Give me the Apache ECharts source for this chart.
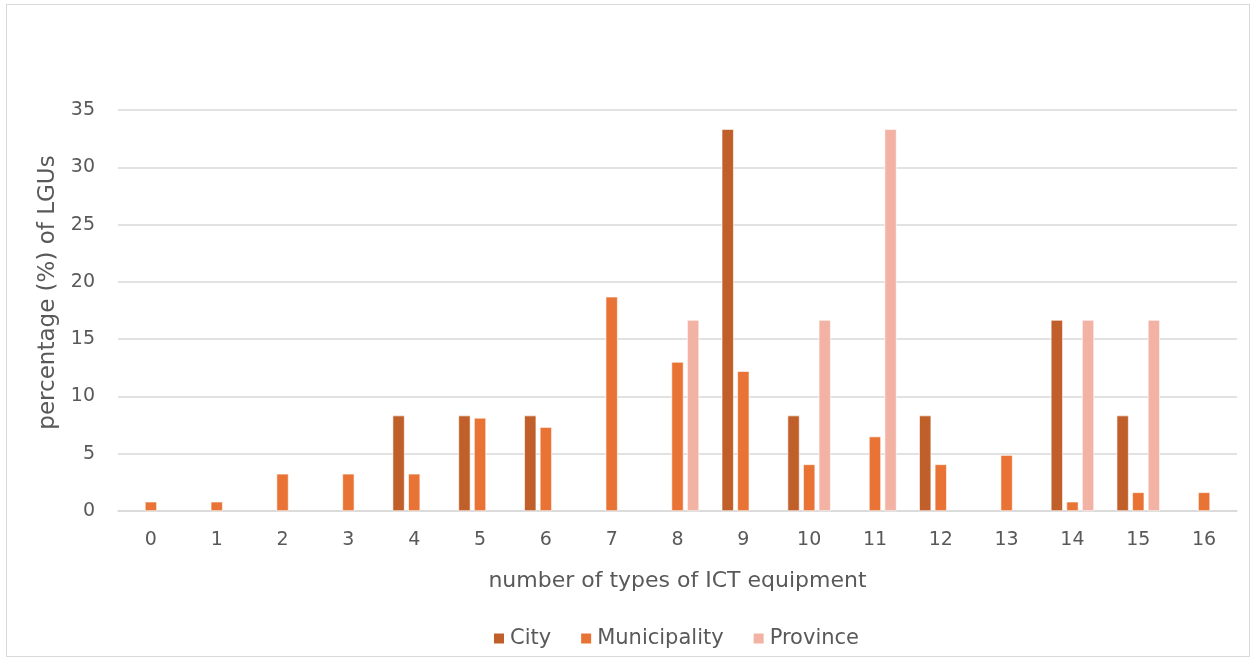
<!DOCTYPE html>
<html>
<head>
<meta charset="utf-8">
<script src="https://cdn.jsdelivr.net/npm/echarts@6/dist/echarts.min.js"></script>
<style>
  html, body { margin: 0; padding: 0; background: #fff; }
  #frame { position: absolute; left: 6px; top: 4px; width: 1242px; height: 651px; border: 1px solid #d9d9d9; }
  #chart { position: absolute; left: 0; top: 0; width: 1250px; height: 661px; }
</style>
</head>
<body>
<div id="frame"></div>
<div id="chart"></div>
<script>
// number of types of ICT equipment
var categories = ['0', '1', '2', '3', '4', '5', '6', '7', '8', '9', '10', '11', '12', '13', '14', '15', '16'];
// percentage of LGUs per group (0 = no bar)
var cityValues = [0, 0, 0, 0, 8.33, 8.33, 8.33, 0, 0, 33.33, 8.33, 0, 8.33, 0, 16.67, 8.33, 0];
var municipalityValues = [0.81, 0.81, 3.25, 3.25, 3.25, 8.13, 7.32, 18.7, 13.01, 12.2, 4.07, 6.5, 4.07, 4.88, 0.81, 1.63, 1.63];
var provinceValues = [0, 0, 0, 0, 0, 0, 0, 0, 16.67, 0, 16.67, 33.33, 0, 0, 16.67, 16.67, 0];

var FONT = 'DejaVu Sans';
var chart = echarts.init(document.getElementById('chart'));

function barSeries(name, data, color) {
  return {
    name: name,
    type: 'bar',
    // zero values are left out so no hairline bars show on the axis
    data: data.map(function (v) { return v === 0 ? null : v; }),
    barWidth: 12,
    barGap: '30%',
    itemStyle: { color: color, borderColor: '#ffffff', borderWidth: 0.6 },
    emphasis: { disabled: true }
  };
}

var option = {
  backgroundColor: 'transparent',
  animation: false,
  textStyle: { fontFamily: FONT },
  grid: { left: 118, right: 13, top: 110, bottom: 150 },
  legend: {
    bottom: 7,
    left: 487,
    itemWidth: 12,
    itemHeight: 12,
    itemGap: 28,
    icon: 'rect',
    textStyle: { color: '#595959', fontSize: 21, fontFamily: FONT },
    data: ['City', 'Municipality', 'Province']
  },
  xAxis: {
    type: 'category',
    data: categories,
    name: 'number of types of ICT equipment',
    nameLocation: 'middle',
    nameGap: 59,
    nameTextStyle: { color: '#595959', fontSize: 22, fontFamily: FONT },
    axisLine: { lineStyle: { color: '#d9d9d9', width: 1.5 } },
    axisTick: { show: false },
    axisLabel: { color: '#595959', fontSize: 19, margin: 20 },
    splitLine: { show: false }
  },
  yAxis: {
    type: 'value',
    min: 0,
    max: 35,
    interval: 5,
    name: 'percentage (%) of LGUs',
    nameLocation: 'middle',
    nameGap: 57,
    nameRotate: 90,
    nameTextStyle: { color: '#595959', fontSize: 23, fontFamily: FONT, padding: [0, 0, 0, 36] },
    axisLine: { show: false },
    axisTick: { show: false },
    axisLabel: { color: '#595959', fontSize: 19, margin: 23 },
    splitLine: { lineStyle: { color: '#d9d9d9', width: 1.5 } }
  },
  series: [
    barSeries('City', cityValues, '#c05f2a'),
    barSeries('Municipality', municipalityValues, '#e97334'),
    barSeries('Province', provinceValues, '#f2b3a5')
  ]
};

chart.setOption(option);
</script>
</body>
</html>
